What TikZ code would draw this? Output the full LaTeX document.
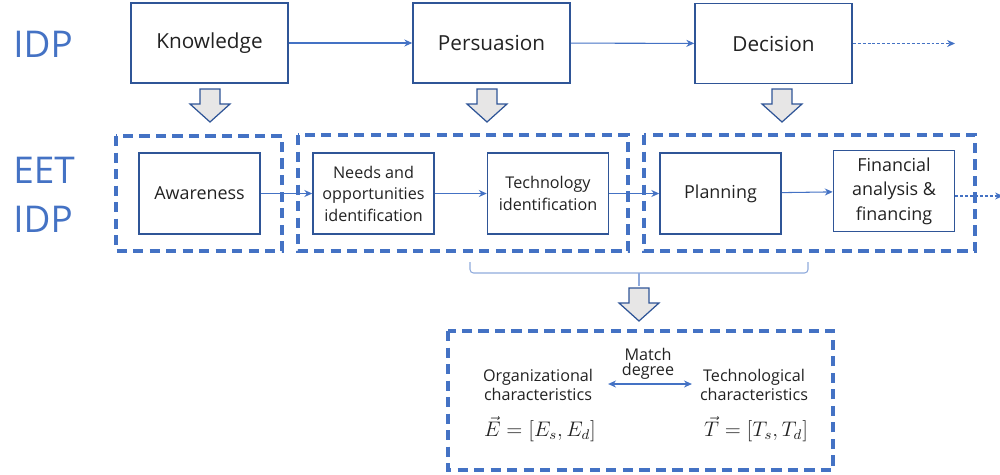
\documentclass[tikz,border=0pt]{standalone}
\usepackage{fontspec}
\setmainfont{Open Sans}
\usepackage{tikz}
\usetikzlibrary{%
  arrows.meta,% Stealth tips
  positioning%
}
\definecolor{idpblue}{HTML}{4472C4}
\definecolor{boxline}{HTML}{2F5597}
\definecolor{linkblue}{HTML}{4472C4}
\definecolor{bracecol}{HTML}{8FAADC}
\definecolor{arrowfill}{HTML}{E7E6E6}
\definecolor{txt}{HTML}{222222}

\begin{document}
\begin{tikzpicture}[
    x=0.02cm, y=-0.02cm,
    stage/.style={draw=boxline, line width=0.9pt, minimum width=3.14cm,
      minimum height=1.6cm, text=txt, font=\fontsize{11.8}{14}\selectfont},
    phase/.style={draw=boxline, line width=0.9pt, minimum width=2.42cm,
      minimum height=1.62cm, align=center, text=txt,
      font=\fontsize{10.2}{14}\selectfont},
    small/.style={font=\fontsize{9.2}{12.2}\selectfont},
    group/.style={draw=idpblue, line width=1.8pt, dash pattern=on 5.8pt off 3.6pt},
    tip/.style={draw=linkblue, line width=0.6pt, -{Stealth[length=4.5pt,width=4pt]}},
    future/.style={tip, dash pattern=on 1.7pt off 1.1pt},
    label/.style={text=idpblue, font=\fontsize{21}{28}\selectfont, align=left,
      inner sep=0pt},
    char/.style={text=txt, align=center, font=\fontsize{9.2}{11.3}\selectfont,
      inner sep=1pt},
    formula/.style={text=txt, inner sep=0pt, font=\fontsize{12}{13}\selectfont},
    brace/.style={draw=bracecol, line width=0.6pt, rounded corners=2pt},
    pics/bigarrow/.style={code={
      \draw[draw=boxline, line width=0.7pt, fill=arrowfill, line join=miter]
        (-10,0) -- (10,0) -- (10,15) -- (20,15) -- (0,33) -- (-20,15)
        -- (-10,15) -- cycle;}}
  ]
  \useasboundingbox (0,0) rectangle (1000,474);

  % row labels
  \node[label, anchor=west] at (13,44) (idp) {IDP};
  \node[label, anchor=west] at (13,195) (eet) {EET\\IDP};

  % draw IDP stages
  \node[stage] at (209.5,43) (know) {Knowledge};
  \node[stage] at (491.5,43) (pers) {Persuasion};
  \node[stage] at (773.5,43.5) (deci) {Decision};
  \coordinate (deciout) at (955,43.5);

  % draw EET IDP phases
  \node[phase] at (199.5,193.5) (aware) {Awareness};
  \node[phase, small] at (373.5,193.5) (needs) {Needs and\\opportunities\\identification};
  \node[phase, small] at (548,193.5) (techid) {Technology\\identification};
  \node[phase] at (720.5,193.5) (plan) {Planning};
  \node[phase] at (894,191) (fin) {Financial\\analysis \&\\financing};
  \coordinate (finout) at (1003,196);

  % dashed groups
  \draw[group] (116,136) rectangle (282,251);
  \draw[group] (298,135) rectangle (628,251);
  \draw[group] (644,135) rectangle (975,251);

  % draw connections
  \draw[tip] (know) -- (pers);
  \draw[tip] (pers) -- (deci);
  \draw[future] (deci) -- (deciout);
  \foreach \a/\b in {aware/needs,needs/techid,techid/plan,plan/fin}{
    \draw[tip] (\a) -- (\b);}
  \draw[future] (finout -| fin.east) -- (finout);

  % block arrows
  \pic at (210,89) {bigarrow};
  \pic at (487,89) {bigarrow};
  \pic at (782,89) {bigarrow};

  % brace and matching box
  \draw[brace] (470,262) |- (808,273) -- (808,262);
  \draw[brace] (639,273) -- (639,286);
  \pic at (639,288) {bigarrow};
  \draw[group] (448,331) rectangle (833,470);

  \node[char] at (538,385) (org) {Organizational\\characteristics};
  \node[char] at (754,385) (tech) {Technological\\characteristics};
  \node[char, font=\fontsize{9.2}{8.6}\selectfont] at (648,364) (match) {Match\\degree};
  \node[formula] at (540,429) (evec) {$\vec{E}=[E_s,E_d]$};
  \node[formula] at (756,429) (tvec) {$\vec{T}=[T_s,T_d]$};
  \draw[tip, {Stealth[length=4.5pt,width=4pt]}-{Stealth[length=4.5pt,width=4pt]}]
    ([xshift=0.26cm,yshift=0.02cm]org.east) -- ([xshift=-0.12cm,yshift=0.02cm]tech.west);
\end{tikzpicture}
\end{document}
